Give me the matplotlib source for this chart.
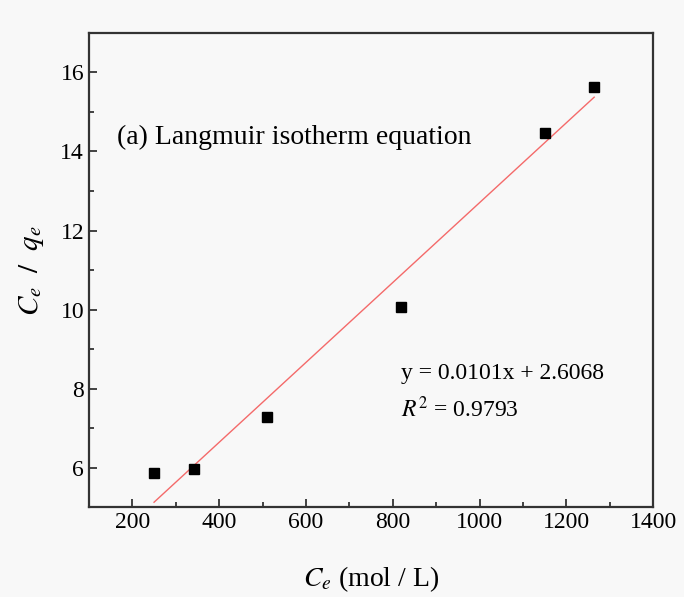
import numpy as np
import matplotlib
matplotlib.use('Agg')
import matplotlib.pyplot as plt
from matplotlib.ticker import MultipleLocator

# data
ce = [250, 342, 511, 818, 1150, 1264]
ce_qe = [5.86, 5.98, 7.28, 10.07, 14.48, 15.63]
slope = 0.0101
intercept = 2.6068
r2 = 0.9793

plt.rcParams['font.family'] = ['Liberation Serif', 'DejaVu Serif']
plt.rcParams['mathtext.fontset'] = 'stix'

bg = '#f8f8f8'
fig = plt.figure(figsize=(6.84, 5.97), dpi=100, facecolor=bg)
ax = fig.add_axes([0.130, 0.150, 0.825, 0.795], facecolor=bg)

ax.plot(ce, ce_qe, 's', color='black', markersize=7, zorder=3)
x_fit = np.array([ce[0], ce[-1]])
ax.plot(x_fit, slope * x_fit + intercept, color='#f46a6a', lw=1.0, zorder=2)

ax.set_xlim(100, 1400)
ax.set_ylim(5, 17)
ax.xaxis.set_major_locator(MultipleLocator(200))
ax.xaxis.set_minor_locator(MultipleLocator(100))
ax.yaxis.set_major_locator(MultipleLocator(2))
ax.yaxis.set_minor_locator(MultipleLocator(1))
ax.tick_params(which='both', direction='in', top=False, right=False, labelsize=17, color='#333333')
ax.tick_params(which='major', length=6, width=1.3)
ax.tick_params(which='minor', length=3.5, width=1.3)
for s in ax.spines.values():
    s.set_linewidth(1.6)
    s.set_color('#333333')

ax.set_xlabel(r'$C_e$ (mol / L)', fontsize=20, labelpad=22)
ax.set_ylabel(r'$C_e\ \ /\ \ q_e$', fontsize=21, labelpad=10)

ax.text(0.049, 0.765, '(a) Langmuir isotherm equation', transform=ax.transAxes, fontsize=20)
ax.text(0.553, 0.270, 'y = 0.0101x + 2.6068', transform=ax.transAxes, fontsize=17)
ax.text(0.553, 0.190, r'$R^2$' + ' = 0.9793', transform=ax.transAxes, fontsize=17)

fig.savefig('out.png', dpi=100, facecolor=bg)
